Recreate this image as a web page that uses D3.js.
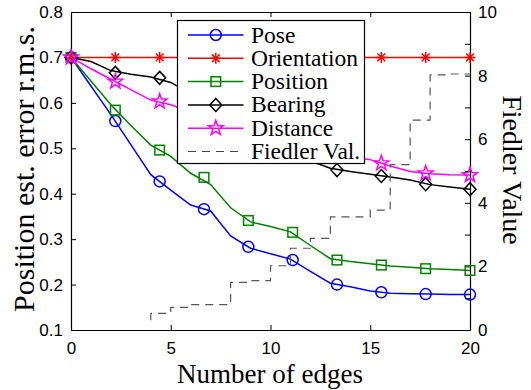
<!DOCTYPE html>
<html><head><meta charset="utf-8">
<script src="https://cdn.jsdelivr.net/npm/d3@7"></script>
<style>body{margin:0;background:#fff} svg{display:block}</style>
</head><body>
<svg id="c" width="531" height="390"></svg>
<script>
// ---- data ----
const edges = d3.range(0, 21);               // line vertices at every edge count
const markerEdges = [0, 2.222, 4.444, 6.667, 8.889, 11.111, 13.333, 15.556, 17.778, 20];

const poseLine        = [0.700,0.637,0.574,0.508,0.442,0.408,0.375,0.362,0.307,0.280,0.268,0.256,0.229,0.203,0.195,0.186,0.181,0.180,0.179,0.178,0.178];
const orientationLine = [0.700,0.700,0.700,0.700,0.700,0.700,0.700,0.700,0.700,0.700,0.700,0.700,0.700,0.700,0.700,0.700,0.700,0.700,0.700,0.700,0.700];
const positionLine    = [0.700,0.648,0.596,0.550,0.507,0.482,0.445,0.420,0.369,0.338,0.328,0.316,0.286,0.257,0.251,0.246,0.241,0.238,0.235,0.233,0.231];
const bearingLine     = [0.700,0.691,0.671,0.663,0.657,0.645,0.620,0.595,0.560,0.535,0.510,0.490,0.472,0.456,0.449,0.443,0.437,0.430,0.420,0.415,0.410];
const distanceLine    = [0.700,0.675,0.652,0.629,0.606,0.596,0.580,0.565,0.545,0.530,0.515,0.500,0.490,0.484,0.482,0.475,0.461,0.449,0.444,0.442,0.441];

const poseMarks        = [0.700,0.560,0.427,0.366,0.283,0.254,0.200,0.183,0.179,0.178];
const orientationMarks = [0.700,0.700,0.700,0.700,0.700,0.700,0.700,0.700,0.700,0.700];
const positionMarks    = [0.700,0.584,0.496,0.436,0.341,0.315,0.254,0.243,0.235,0.231];
const bearingMarks     = [0.700,0.666,0.655,0.603,0.538,0.488,0.452,0.439,0.421,0.410];
const distanceMarks    = [0.700,0.647,0.603,0.570,0.532,0.499,0.483,0.467,0.445,0.441];

const fiedlerEdges  = [4, 4, 5, 6, 7, 8, 9, 10, 11, 12, 13, 14, 15, 16, 17, 18, 19, 20];
const fiedlerValues = [0.31, 0.52, 0.71, 0.80, 0.80, 1.50, 1.55, 2.02, 2.57, 2.88, 3.56, 3.56, 3.77, 5.20, 6.60, 8.02, 8.05, 8.05];

const xTicks  = [0, 5, 10, 15, 20];
const yTicks  = [0.1, 0.2, 0.3, 0.4, 0.5, 0.6, 0.7, 0.8];
const y2Ticks = [0, 1, 2, 3, 4, 5, 6, 7, 8, 9, 10];

const seriesNames = ["Pose", "Orientation", "Position", "Bearing", "Distance", "Fiedler Val."];

// ---- layout ----
const L = 71, R = 470, T = 12, B = 330;
const svg = d3.select("#c");
const x  = d3.scaleLinear([0, 20], [L, R]);
const y  = d3.scaleLinear([0.1, 0.8], [B, T]);
const y2 = d3.scaleLinear([0, 10], [B, T]);

const tickFont = "'Liberation Sans', Arial, sans-serif";
const serif = "'Liberation Serif', 'Times New Roman', serif";

// ---- marker shapes ----
function starPath(ro, ri, n) {
  const pts = [];
  for (let i = 0; i < 2 * n; i++) {
    const r = i % 2 === 0 ? ro : ri;
    const a = -Math.PI / 2 + i * Math.PI / n;
    pts.push([r * Math.cos(a), r * Math.sin(a)]);
  }
  return "M" + pts.map(p => p[0].toFixed(2) + "," + p[1].toFixed(2)).join("L") + "Z";
}
const markerDefs = {
  circle:   g => g.append("circle").attr("r", 5.5),
  asterisk: g => g.append("path").attr("d", "M-5.5,0H5.5M0,-5.5V5.5M-3.9,-3.9L3.9,3.9M-3.9,3.9L3.9,-3.9"),
  square:   g => g.append("rect").attr("x", -4.8).attr("y", -4.8).attr("width", 9.6).attr("height", 9.6),
  diamond:  g => g.append("path").attr("d", "M0,-6.5L6,0L0,6.5L-6,0Z"),
  star:     g => g.append("path").attr("d", starPath(7.8, 3.1, 5))
};

const series = [
  {name: seriesNames[0], line: poseLine,        marks: poseMarks,        color: "#0000ff", marker: "circle"},
  {name: seriesNames[1], line: orientationLine, marks: orientationMarks, color: "#ff0000", marker: "asterisk"},
  {name: seriesNames[2], line: positionLine,    marks: positionMarks,    color: "#008000", marker: "square"},
  {name: seriesNames[3], line: bearingLine,     marks: bearingMarks,     color: "#000000", marker: "diamond"},
  {name: seriesNames[4], line: distanceLine,    marks: distanceMarks,    color: "#ff00ff", marker: "star"}
];

// ---- axes ----
function styleAxis(g) {
  g.selectAll("path.domain").attr("stroke", "#000").attr("stroke-width", 1.2);
  g.selectAll(".tick line").attr("stroke", "#000").attr("stroke-width", 1);
  g.selectAll("text").attr("font-family", tickFont).attr("font-size", 17).attr("fill", "#000");
}
svg.append("g").attr("transform", `translate(0,${B})`)
  .call(d3.axisBottom(x).tickValues(xTicks).tickSizeInner(-5).tickSizeOuter(0).tickPadding(12))
  .call(styleAxis);
svg.append("g").attr("transform", `translate(0,${T})`)
  .call(d3.axisTop(x).tickValues(xTicks).tickSizeInner(-5).tickSizeOuter(0).tickFormat(""))
  .call(styleAxis);
svg.append("g").attr("transform", `translate(${L},0)`)
  .call(d3.axisLeft(y).tickValues(yTicks).tickSizeInner(-5).tickSizeOuter(0).tickPadding(8).tickFormat(d3.format(".1f")))
  .call(styleAxis);
svg.append("g").attr("transform", `translate(${R},0)`)
  .call(d3.axisRight(y2).tickValues(y2Ticks).tickSizeInner(-5).tickSizeOuter(0).tickPadding(8)
        .tickFormat(d => d % 2 === 0 ? d : ""))
  .call(styleAxis);

// ---- axis titles ----
svg.append("text").attr("x", 270).attr("y", 383).attr("text-anchor", "middle")
  .attr("font-family", serif).attr("font-size", 27).text("Number of edges");
svg.append("text").attr("transform", `translate(34,169) rotate(-90)`).attr("text-anchor", "middle")
  .attr("font-family", serif).attr("font-size", 30).text("Position est. error r.m.s.");
svg.append("text").attr("transform", `translate(503,170) rotate(90)`).attr("text-anchor", "middle")
  .attr("font-family", serif).attr("font-size", 28).text("Fiedler Value");

// ---- series ----
const plot = svg.append("g");
const lineGen = d3.line().x((d, i) => x(edges[i])).y(d => y(d));
series.forEach(s => {
  plot.append("path").attr("d", lineGen(s.line)).attr("fill", "none")
    .attr("stroke", s.color).attr("stroke-width", 1.5);
  s.marks.forEach((v, i) => {
    const g = plot.append("g").attr("transform", `translate(${x(markerEdges[i])},${y(v)})`)
      .attr("fill", "none").attr("stroke", s.color).attr("stroke-width", 1.5);
    markerDefs[s.marker](g);
  });
});

// Fiedler step line (right axis)
const stepGen = d3.line().curve(d3.curveStepAfter).x((d, i) => x(fiedlerEdges[i])).y(d => y2(d));
plot.append("path").attr("d", stepGen(fiedlerValues)).attr("fill", "none")
  .attr("stroke", "#555").attr("stroke-width", 1.2).attr("stroke-dasharray", "8,6");

// ---- legend ----
const lg = svg.append("g");
lg.append("rect").attr("x", 177.5).attr("y", 20.5).attr("width", 187).attr("height", 143)
  .attr("fill", "#fff").attr("stroke", "#000").attr("stroke-width", 1.2);
const rowY = i => 35 + i * 23.3;
series.forEach((s, i) => {
  lg.append("line").attr("x1", 188).attr("x2", 243.5).attr("y1", rowY(i)).attr("y2", rowY(i))
    .attr("stroke", s.color).attr("stroke-width", 1.5);
  const g = lg.append("g").attr("transform", `translate(215.8,${rowY(i)})`)
    .attr("fill", "none").attr("stroke", s.color).attr("stroke-width", 1.5);
  markerDefs[s.marker](g);
});
lg.append("line").attr("x1", 188).attr("x2", 243.5).attr("y1", rowY(5)).attr("y2", rowY(5))
  .attr("stroke", "#444").attr("stroke-width", 1.2).attr("stroke-dasharray", "8,6");
seriesNames.forEach((n, i) => {
  lg.append("text").attr("x", 251).attr("y", rowY(i) + 7.5)
    .attr("font-family", serif).attr("font-size", 23.5).attr("fill", "#000").text(n);
});
</script>
</body></html>
